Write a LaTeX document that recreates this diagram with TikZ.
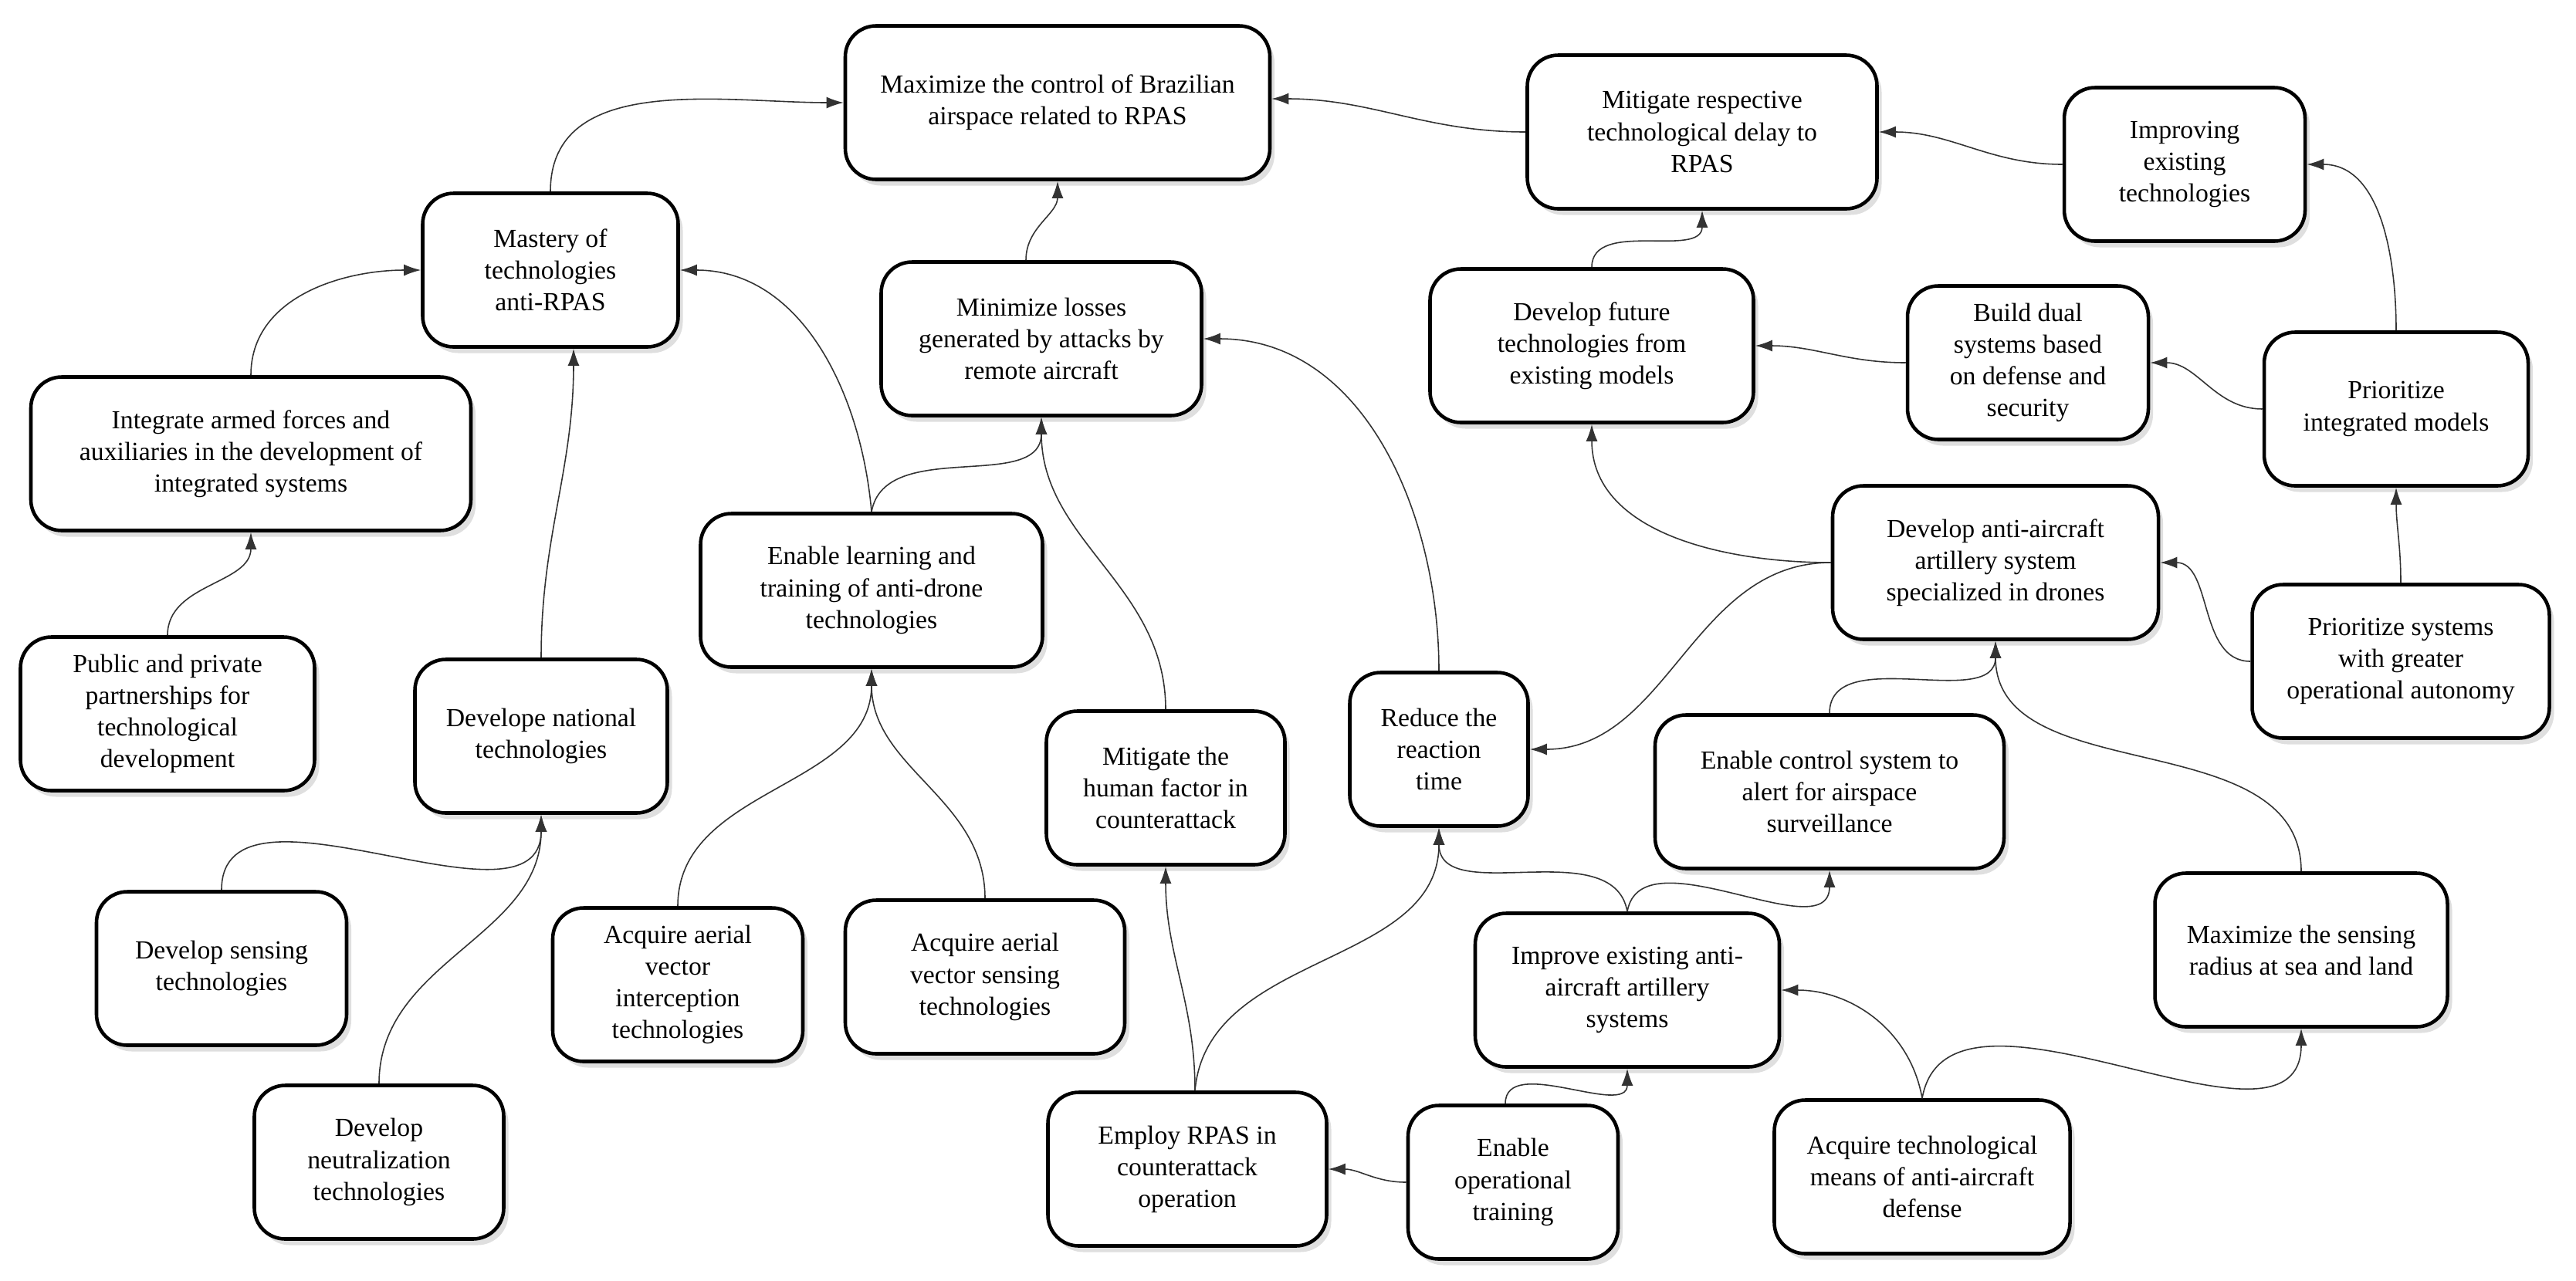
\documentclass[tikz,border=0pt]{standalone}
\usepackage{fontspec}
\setmainfont{Liberation Serif}
\usetikzlibrary{arrows.meta,shadows}
\begin{document}
\begin{tikzpicture}[
  box/.style={draw=black, line width=1.3pt, rounded corners=0.4cm, fill=white, align=center,
    minimum height=1.99cm, inner sep=2pt, font=\fontsize{9.6}{11.7}\selectfont,
    drop shadow={opacity=0.25, shadow xshift=0.06cm, shadow yshift=-0.08cm}},
  edge/.style={draw=black!80, line width=0.45pt, -{Latex[length=0.22cm,width=0.15cm]}}
]
\useasboundingbox (0,0) rectangle (33.37,-16.59);
% nodes
\node[box, minimum width=5.5cm] (max) at (13.70,-1.33) {Maximize the control of Brazilian\\airspace related to RPAS};
\node[box, minimum width=3.31cm] (mas) at (7.13,-3.50) {Mastery of\\technologies\\anti-RPAS};
\node[box, minimum width=4.15cm] (min) at (13.49,-4.39) {Minimize losses\\generated by attacks by\\remote aircraft};
\node[box, minimum width=5.7cm] (int) at (3.25,-5.88) {Integrate armed forces and\\auxiliaries in the development of\\integrated systems};
\node[box, minimum width=4.43cm] (lea) at (11.29,-7.65) {Enable learning and\\training of anti-drone\\technologies};
\node[box, minimum width=4.53cm] (mit) at (22.05,-1.71) {Mitigate respective\\technological delay to\\RPAS};
\node[box, minimum width=3.12cm] (imp) at (28.30,-2.13) {Improving\\existing\\technologies};
\node[box, minimum width=4.19cm] (fut) at (20.62,-4.48) {Develop future\\technologies from\\existing models};
\node[box, minimum width=3.12cm] (dua) at (26.27,-4.70) {Build dual\\systems based\\on defense and\\security};
\node[box, minimum width=3.42cm] (pim) at (31.04,-5.30) {Prioritize\\integrated models};
\node[box, minimum width=4.22cm] (aaa) at (25.85,-7.29) {Develop anti-aircraft\\artillery system\\specialized in drones};
\node[box, minimum width=3.85cm] (psy) at (31.10,-8.57) {Prioritize systems\\with greater\\operational autonomy};
\node[box, minimum width=3.81cm] (pub) at (2.17,-9.25) {Public and private\\partnerships for\\technological\\development};
\node[box, minimum width=3.27cm] (nat) at (7.01,-9.54) {Develope national\\technologies};
\node[box, minimum width=3.24cm] (sen) at (2.87,-12.55) {Develop sensing\\technologies};
\node[box, minimum width=3.23cm] (neu) at (4.91,-15.06) {Develop\\neutralization\\technologies};
\node[box, minimum width=3.24cm] (aqi) at (8.78,-12.76) {Acquire aerial\\vector\\interception\\technologies};
\node[box, minimum width=3.62cm] (aqs) at (12.76,-12.66) {Acquire aerial\\vector sensing\\technologies};
\node[box, minimum width=3.09cm] (hum) at (15.10,-10.21) {Mitigate the\\human factor in\\counterattack};
\node[box, minimum width=3.61cm] (emp) at (15.38,-15.15) {Employ RPAS in\\counterattack\\operation};
\node[box, minimum width=2.31cm] (red) at (18.64,-9.71) {Reduce the\\reaction\\time};
\node[box, minimum width=4.52cm] (ctl) at (23.70,-10.26) {Enable control system to\\alert for airspace\\surveillance};
\node[box, minimum width=3.94cm] (iea) at (21.08,-12.83) {Improve existing anti-\\aircraft artillery\\systems};
\node[box, minimum width=3.79cm] (msr) at (29.81,-12.31) {Maximize the sensing\\radius at sea and land};
\node[box, minimum width=2.72cm] (opt) at (19.60,-15.32) {Enable\\operational\\training};
\node[box, minimum width=3.83cm] (atm) at (24.90,-15.25) {Acquire technological\\means of anti-aircraft\\defense};
% edges
\draw[edge] (mas.north) to[out=90,in=180] (max.west);
\draw[edge] ([xshift=-0.2cm]min.north) to[out=90,in=-90] (max.south);
\draw[edge] ([yshift=0cm]mit.west) to[out=180,in=0] ([yshift=0.05cm]max.east);
\draw[edge] (int.north) to[out=90,in=180] (mas.west);
\draw[edge] (pub.north) to[out=90,in=-90] (int.south);
\draw[edge] (nat.north) to[out=90,in=-90] ([xshift=0.3cm]mas.south);
\draw[edge] (lea.north) to[out=95,in=0] (mas.east);
\draw[edge] (lea.north) to[out=80,in=-90] (min.south);
\draw[edge] (hum.north) to[out=90,in=-90] (min.south);
\draw[edge] (red.north) to[out=90,in=0] (min.east);
\draw[edge] (aqi.north) to[out=90,in=-90] (lea.south);
\draw[edge] (aqs.north) to[out=90,in=-90] (lea.south);
\draw[edge] (sen.north) to[out=90,in=-90] (nat.south);
\draw[edge] (neu.north) to[out=90,in=-90] (nat.south);
\draw[edge] ([xshift=0.1cm]emp.north) to[out=90,in=-90] (hum.south);
\draw[edge] ([xshift=0.1cm]emp.north) to[out=85,in=-90] (red.south);
\draw[edge] (opt.west) to[out=180,in=0] (emp.east);
\draw[edge] ([xshift=-0.1cm]opt.north) to[out=90,in=-90] (iea.south);
\draw[edge] (iea.north) to[out=100,in=-90] (red.south);
\draw[edge] (iea.north) to[out=80,in=-90] (ctl.south);
\draw[edge] (ctl.north) to[out=90,in=-90] (aaa.south);
\draw[edge] (msr.north) to[out=90,in=-90] (aaa.south);
\draw[edge] (atm.north) to[out=100,in=0] (iea.east);
\draw[edge] (atm.north) to[out=80,in=-90] (msr.south);
\draw[edge] (aaa.west) to[out=180,in=-90] (fut.south);
\draw[edge] (aaa.west) to[out=180,in=0] (red.east);
\draw[edge] (psy.west) to[out=180,in=0] (aaa.east);
\draw[edge] (psy.north) to[out=90,in=-90] (pim.south);
\draw[edge] (pim.west) to[out=180,in=0] (dua.east);
\draw[edge] (pim.north) to[out=90,in=0] (imp.east);
\draw[edge] (dua.west) to[out=180,in=0] (fut.east);
\draw[edge] (imp.west) to[out=180,in=0] (mit.east);
\draw[edge] (fut.north) to[out=90,in=-90] (mit.south);
\end{tikzpicture}
\end{document}
